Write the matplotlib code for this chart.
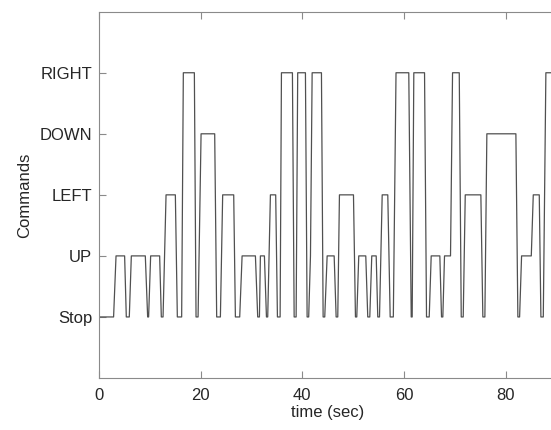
import matplotlib
matplotlib.use("Agg")
import matplotlib.pyplot as plt

plt.rcParams['font.family'] = ['Liberation Sans', 'DejaVu Sans']

command_names = ["Stop", "UP", "LEFT", "DOWN", "RIGHT"]
x_ticks = [0, 20, 40, 60, 80]

time_s = [0, 2.87, 3.35, 5.04, 5.37, 5.96, 6.36, 9.11, 9.57, 9.76, 10.16, 11.93,
          12.26, 12.60, 13.19, 15.02, 15.41, 16.26, 16.59, 18.76, 19.09, 19.49,
          20.08, 22.76, 23.15, 23.88, 24.33, 26.50, 26.83, 27.68, 28.15, 30.77,
          31.22, 31.56, 31.75, 32.54, 32.94, 33.19, 33.72, 34.76, 35.10, 35.63,
          35.89, 38.05, 38.39, 38.78, 39.09, 40.61, 40.94, 41.25, 41.60, 41.93,
          43.76, 44.09, 44.41, 44.88, 46.26, 46.65, 46.97, 47.30, 50.06, 50.45,
          50.71, 51.10, 52.48, 52.87, 53.27, 53.66, 54.53, 54.84, 55.18, 55.71,
          56.81, 57.28, 57.90, 58.43, 60.94, 61.42, 61.61, 61.93, 64.04, 64.43,
          64.96, 65.35, 67.05, 67.38, 67.64, 67.97, 69.15, 69.55, 70.87, 71.26,
          71.65, 72.05, 75.12, 75.51, 75.91, 76.30, 82.01, 82.40, 82.74, 83.13,
          85.04, 85.43, 86.61, 86.93, 87.40, 87.91, 90.0]
command = [0, 0, 1, 1, 0, 0, 1, 1, 0, 0, 1, 1,
           0, 0, 2, 2, 0, 0, 4, 4, 0, 0,
           3, 3, 0, 0, 2, 2, 0, 0, 1, 1,
           0, 0, 1, 1, 0, 0, 2, 2, 0, 0,
           4, 4, 0, 0, 4, 4, 0, 0, 1, 4,
           4, 0, 0, 1, 1, 0, 0, 2, 2, 0,
           0, 1, 1, 0, 0, 1, 1, 0, 0, 2,
           2, 0, 0, 4, 4, 0, 0, 4, 4, 0,
           0, 1, 1, 0, 0, 1, 1, 4, 4, 0,
           0, 2, 2, 0, 0, 3, 3, 0, 0, 1,
           1, 2, 2, 0, 0, 4, 4]

W, H = 551, 430
fig = plt.figure(figsize=(W / 100, H / 100), dpi=100)
ax_left, ax_right_px = 99, 556.5
ax_top, ax_bottom = 11.7, 378
ax = fig.add_axes([ax_left / W, (H - ax_bottom) / H,
                   (ax_right_px - ax_left) / W, (ax_bottom - ax_top) / H])

ax.plot(time_s, command, color='#505050', linewidth=0.9)

ax.set_xlim(0, 90)
ax.set_ylim(-1, 5)
ax.set_xticks(x_ticks)
ax.set_yticks(range(len(command_names)))
ax.set_yticklabels(command_names)

spine_col = '#8a8a8a'
for s in ax.spines.values():
    s.set_color(spine_col)
    s.set_linewidth(0.8)
ax.tick_params(direction='in', length=5, width=0.8, color=spine_col,
               labelsize=12, labelcolor='#262626', top=True, right=False)
ax.tick_params(axis='x', pad=7)
ax.tick_params(axis='y', pad=5)

ax.set_xlabel('time (sec)', fontsize=12, color='#262626')
ax.set_ylabel('Commands', fontsize=12, color='#262626')
ax.xaxis.set_label_coords(0.5, -0.073)
ax.yaxis.set_label_coords(-0.146, 0.5)

fig.savefig('out.png', dpi=100)
